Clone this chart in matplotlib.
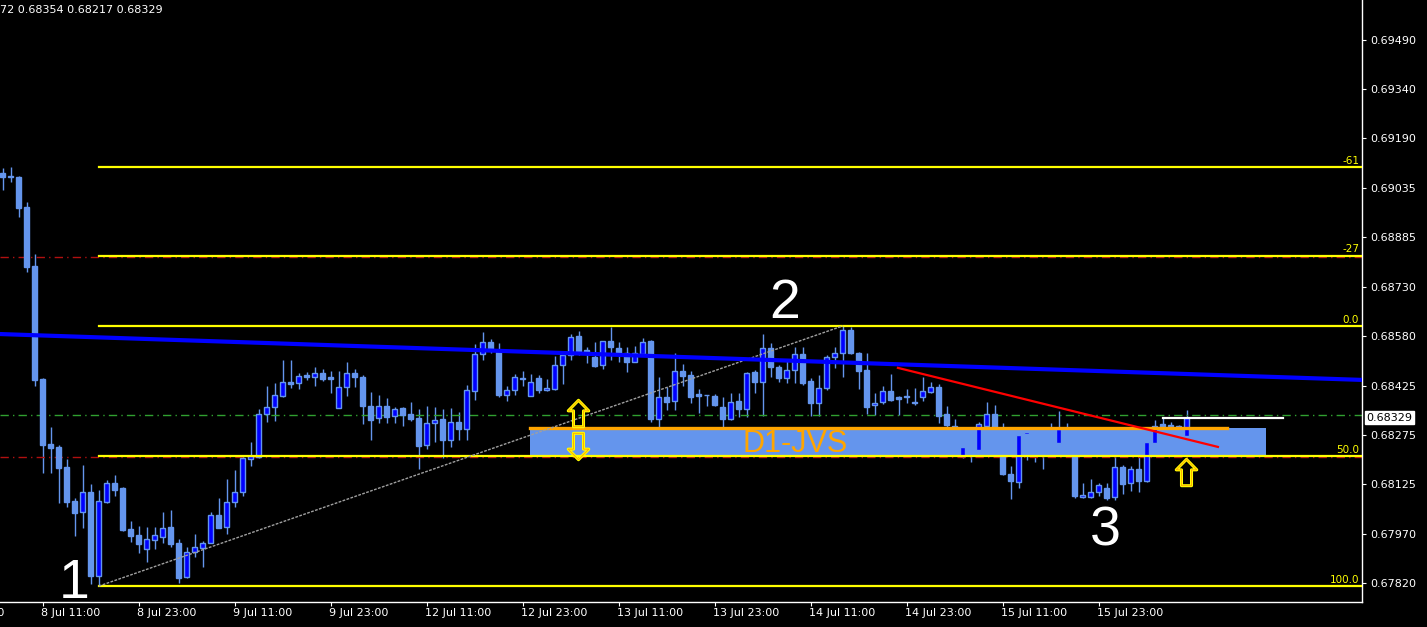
import numpy as np
import matplotlib
matplotlib.use("Agg")
import matplotlib.pyplot as plt
from matplotlib.path import Path
from matplotlib.patches import Rectangle

# H1 candles, prices in points (1e-5), bar index 0 = 8 Jul 11:00
first_bar = -5
opens = [69081, 69072, 69069, 68977, 68795, 68448, 68248, 68239, 68177, 68073,
         68039, 68100, 67842, 68070, 68128, 68113, 67987, 67968, 67925, 67953,
         67962, 67993, 67944, 67839, 67916, 67928, 67944, 68030, 67993, 68070,
         68100, 68202, 68208, 68340, 68362, 68396, 68439, 68435, 68460, 68454,
         68466, 68454, 68359, 68423, 68466, 68454, 68365, 68328, 68365, 68334,
         68359, 68340, 68328, 68245, 68312, 68325, 68260, 68315, 68294, 68411,
         68525, 68561, 68531, 68399, 68414, 68451, 68396, 68451, 68414, 68417,
         68491, 68522, 68580, 68537, 68515, 68491, 68565, 68543, 68528, 68500,
         68525, 68565, 68325, 68393, 68380, 68472, 68460, 68402, 68399, 68396,
         68362, 68325, 68380, 68356, 68469, 68439, 68543, 68485, 68451, 68475,
         68525, 68442, 68374, 68420, 68515, 68528, 68599, 68528, 68475, 68368,
         68377, 68411, 68393, 68394, 68377, 68393, 68408, 68423, 68340, 68303,
         68211, 68239, 68230, 68303, 68340, 68208, 68156, 68131, 68279, 68254,
         68251, 68251, 68251, 68291, 68208, 68086, 68086, 68100, 68113, 68086,
         68177, 68128, 68171, 68134, 68251, 68309, 68306, 68303, 68272]
highs = [69097, 69100, 69072, 68992, 68832, 68450, 68300, 68245, 68202, 68083,
         68183, 68125, 68107, 68137, 68153, 68116, 68011, 67996, 67993, 67993,
         68039, 68045, 67956, 67931, 67971, 67950, 68039, 68083, 68140, 68168,
         68214, 68254, 68356, 68426, 68435, 68506, 68506, 68466, 68469, 68485,
         68478, 68472, 68472, 68500, 68478, 68460, 68408, 68399, 68389, 68362,
         68362, 68377, 68356, 68365, 68362, 68356, 68359, 68346, 68429, 68555,
         68592, 68571, 68558, 68426, 68463, 68472, 68463, 68460, 68448, 68518,
         68531, 68586, 68595, 68546, 68561, 68565, 68608, 68561, 68546, 68549,
         68574, 68568, 68454, 68423, 68528, 68494, 68472, 68417, 68400, 68402,
         68393, 68405, 68405, 68469, 68475, 68586, 68558, 68491, 68506, 68546,
         68546, 68451, 68460, 68522, 68546, 68611, 68608, 68531, 68528, 68405,
         68426, 68463, 68396, 68417, 68420, 68454, 68439, 68432, 68365, 68325,
         68269, 68254, 68315, 68377, 68368, 68312, 68180, 68279, 68288, 68276,
         68279, 68312, 68349, 68312, 68211, 68128, 68140, 68128, 68128, 68242,
         68183, 68180, 68208, 68254, 68321, 68328, 68315, 68306, 68354]
lows = [69029, 69054, 68946, 68777, 68426, 68159, 68159, 68067, 68054, 67965,
        67990, 67818, 67811, 68068, 68089, 67981, 67947, 67913, 67885, 67925,
        67944, 67931, 67821, 67836, 67901, 67870, 67944, 67990, 67971, 68054,
        68089, 68180, 68205, 68315, 68318, 68393, 68420, 68417, 68445, 68426,
        68442, 68405, 68359, 68396, 68423, 68309, 68260, 68312, 68312, 68312,
        68303, 68318, 68171, 68233, 68254, 68205, 68239, 68260, 68260, 68383,
        68506, 68528, 68393, 68380, 68399, 68426, 68396, 68405, 68411, 68414,
        68432, 68506, 68522, 68497, 68485, 68478, 68506, 68500, 68469, 68500,
        68522, 68315, 68300, 68352, 68352, 68426, 68374, 68343, 68365, 68365,
        68300, 68321, 68331, 68331, 68405, 68334, 68454, 68439, 68435, 68435,
        68429, 68334, 68334, 68414, 68482, 68454, 68525, 68417, 68340, 68337,
        68371, 68380, 68337, 68374, 68368, 68380, 68405, 68312, 68291, 68276,
        68205, 68193, 68220, 68291, 68214, 68153, 68079, 68113, 68199, 68193,
        68171, 68208, 68239, 68214, 68083, 68083, 68083, 68089, 68076, 68076,
        68095, 68104, 68100, 68131, 68245, 68291, 68251, 68291, 68217]
closes = [69069, 69069, 68974, 68791, 68445, 68245, 68236, 68174, 68070, 68036,
          68100, 67842, 68073, 68128, 68107, 67984, 67965, 67941, 67956, 67968,
          67990, 67941, 67836, 67916, 67931, 67944, 68030, 67990, 68070, 68100,
          68205, 68211, 68340, 68362, 68399, 68439, 68432, 68457, 68454, 68466,
          68448, 68448, 68423, 68466, 68454, 68365, 68321, 68365, 68331, 68356,
          68337, 68325, 68242, 68312, 68321, 68260, 68315, 68294, 68414, 68525,
          68561, 68537, 68399, 68414, 68454, 68448, 68439, 68414, 68420, 68491,
          68522, 68577, 68531, 68528, 68488, 68565, 68546, 68525, 68500, 68528,
          68561, 68325, 68393, 68377, 68472, 68457, 68393, 68396, 68398, 68368,
          68325, 68377, 68356, 68466, 68439, 68543, 68485, 68451, 68475, 68525,
          68435, 68374, 68420, 68515, 68528, 68599, 68528, 68472, 68362, 68374,
          68411, 68383, 68387, 68393, 68374, 68411, 68423, 68334, 68306, 68288,
          68239, 68214, 68309, 68340, 68254, 68156, 68134, 68276, 68285, 68224,
          68245, 68249, 68294, 68236, 68089, 68092, 68100, 68122, 68083, 68177,
          68125, 68171, 68134, 68254, 68303, 68297, 68297, 68300, 68329]

time_ticks = [-12, 0, 12, 24, 36, 48, 60, 72, 84, 96, 108, 120, 132]
time_labels = ["7 Jul 23:00", "8 Jul 11:00", "8 Jul 23:00", "9 Jul 11:00",
               "9 Jul 23:00", "12 Jul 11:00", "12 Jul 23:00", "13 Jul 11:00",
               "13 Jul 23:00", "14 Jul 11:00", "14 Jul 23:00", "15 Jul 11:00",
               "15 Jul 23:00"]
price_ticks = [0.69490, 0.69340, 0.69190, 0.69035, 0.68885, 0.68730,
               0.68580, 0.68425, 0.68275, 0.68125, 0.67970, 0.67820]
last_price = 0.68329

# fibo levels drawn from swing low (1) to swing high (2)
fib_levels = [0.67811, 0.68211, 0.68611, 0.68827, 0.69099]
fib_labels = ["100.0", "50.0", "0.0", "-27", "-61"]
fib_start = 7
swing_x = [7, 100]
swing_y = [0.67811, 0.68611]

ma_x = [-5.34, 164.9]
ma_y = [0.68586, 0.68445]
trend_x = [106.9, 146.9]
trend_y = [0.68482, 0.68239]
zone_x = [60.9, 152.9]
zone_y = [0.68211, 0.68297]
zone_edge_end = 148.0
red_levels = [0.68823, 0.68208]
green_levels = [0.68337]
ask_x = [140, 155]
wave_x = [3.9, 92.8, 132.8]
wave_y = [0.67774, 0.68635, 0.67937]
wave_names = ["1", "2", "3"]
arrows_up = [(66.9, 0.68342), (142.9, 0.68163)]
arrows_down = [(66.9, 0.68243)]

o = np.array(opens) / 1e5
h = np.array(highs) / 1e5
l = np.array(lows) / 1e5
c = np.array(closes) / 1e5
bars = np.arange(first_bar, first_bar + len(o))

fig = plt.figure(figsize=(14.27, 6.27), dpi=100, facecolor="black")
ax = fig.add_axes([0, 25 / 627, 1362 / 1427, 602 / 627])
ax.set_facecolor("black")
ax.set_xlim(-5.34, 164.91)
ax.set_ylim(0.677622, 0.696130)

cfb = "#6495ED"
ax.add_patch(Rectangle((zone_x[0], zone_y[0]), zone_x[1] - zone_x[0], zone_y[1] - zone_y[0],
                       facecolor=cfb, edgecolor="none", zorder=1))

# candles
ax.vlines(bars, l, h, color=cfb, lw=1, zorder=2)
bull = c >= o
body_lo = np.minimum(o, c)
body_h = np.maximum(np.abs(c - o), 0.000005)
ax.bar(bars, body_h, width=0.6, bottom=body_lo, color=np.where(bull, "#0000FF", cfb),
       edgecolor=cfb, linewidth=1, zorder=3)

ax.plot([zone_x[0], zone_edge_end], [zone_y[1]] * 2, color="#FFA500", lw=2.4, zorder=4)
ax.text(94.0, 0.68248, "D1-JVS", color="#FFA500", fontsize=22, family="Liberation Sans",
        ha="center", va="center", zorder=5)

for lv in red_levels:
    ax.axhline(lv, color="#B01010", lw=1, ls=(0, (6, 3, 1, 3)), zorder=2)
for lv in green_levels:
    ax.axhline(lv, color="#30A030", lw=1, ls=(0, (6, 3, 1, 3)), zorder=2)

for lv, lab in zip(fib_levels, fib_labels):
    ax.plot([fib_start, 164.91], [lv, lv], color="#FFFF00", lw=1.6, zorder=4)
    ax.annotate(lab, xy=(1, lv), xycoords=("axes fraction", "data"), xytext=(-2, 1),
                textcoords="offset points", ha="right", va="bottom", color="#FFFF00", fontsize=7.5)

ax.plot(swing_x, swing_y, color="#A0A0A0", lw=1, ls=(0, (2, 1)), zorder=4)
ax.plot(ma_x, ma_y, color="#0000FF", lw=3, zorder=5)
ax.plot(trend_x, trend_y, color="#FF0000", lw=1.6, zorder=6)
ax.plot(ask_x, [last_price] * 2, color="white", lw=1.6, zorder=6)

arrow = Path([(-0.19, -0.5), (0.19, -0.5), (0.19, 0.1), (0.39, 0.1), (0, 0.5),
              (-0.39, 0.1), (-0.19, 0.1), (-0.19, -0.5)],
             [Path.MOVETO] + [Path.LINETO] * 6 + [Path.CLOSEPOLY])
arrow_dn = Path(arrow.vertices * [1, -1], arrow.codes)
for pts, mk in ((arrows_up, arrow), (arrows_down, arrow_dn)):
    xs, ys = zip(*pts)
    ax.plot(xs, ys, ls="none", marker=mk, markersize=19, markerfacecolor="none",
            markeredgecolor="#FFFF00", markeredgewidth=2.2, zorder=7)
    ax.plot(xs, ys, ls="none", marker=mk, markersize=19, markerfacecolor="none",
            markeredgecolor="#FFA500", markeredgewidth=0.6, zorder=8)

for x, y, t in zip(wave_x, wave_y, wave_names):
    ax.text(x, y, t, color="white", fontsize=40, family="Liberation Sans",
            ha="center", va="baseline", zorder=9)

# axes styling
for s in ("top", "left"):
    ax.spines[s].set_visible(False)
for s in ("right", "bottom"):
    ax.spines[s].set_color("white")
    ax.spines[s].set_linewidth(1)

ax.yaxis.tick_right()
ax.set_yticks(price_ticks)
ax.set_yticklabels([f"{p:.5f}" for p in price_ticks])
ax.tick_params(axis="y", direction="out", length=3, pad=3, colors="white", labelsize=8)

ax.set_xticks([t for t in time_ticks if t > -5.34])
ax.tick_params(axis="x", direction="out", length=3, colors="white", labelbottom=False)
for t, lab in zip(time_ticks, time_labels):
    ax.annotate(lab, xy=(t, 0), xycoords=("data", "axes fraction"), xytext=(-1, -4.5),
                textcoords="offset points", ha="left", va="top", color="white",
                fontsize=8, annotation_clip=False)

ax.annotate(f"{last_price:.5f}", xy=(1, last_price), xycoords=("axes fraction", "data"),
            xytext=(3, 0), textcoords="offset points", ha="left", va="center",
            color="black", fontsize=8,
            bbox=dict(boxstyle="square,pad=0.15", fc="white", ec="white"))

fig.text(0.0, 1 - 10 / 627, "72 0.68354 0.68217 0.68329", color="white", fontsize=8,
         ha="left", va="center")

fig.savefig("out.png", dpi=100, facecolor="black")
